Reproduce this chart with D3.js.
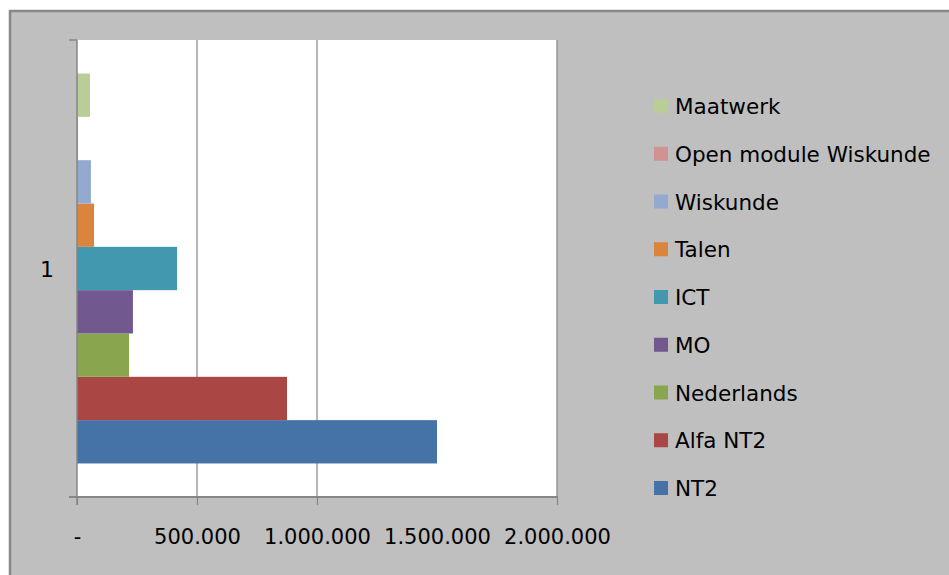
<!DOCTYPE html>
<html>
<head>
<meta charset="utf-8">
<script src="https://cdn.jsdelivr.net/npm/d3@7"></script>
<style>
  html, body { margin: 0; padding: 0; background: #fff; overflow: hidden; }
  svg { display: block; font-family: "DejaVu Sans", sans-serif; }
</style>
</head>
<body>
<div id="app"></div>
<script>
// data
const categories = ["1"];
const seriesNames = ["NT2", "Alfa NT2", "Nederlands", "MO", "ICT", "Talen", "Wiskunde", "Open module Wiskunde", "Maatwerk"];
const seriesValues = [1500000, 875000, 217000, 233000, 417000, 71000, 58000, 4000, 54000];
const seriesColors = ["#4572a7", "#aa4643", "#89a54e", "#71588f", "#4198af", "#db843d", "#93a9cf", "#d19392", "#b9cd96"];
const tickValues = [0, 500000, 1000000, 1500000, 2000000];
const gridValues = [500000, 1000000, 2000000];

const width = 949, height = 575;
const plot = { left: 77, right: 557, top: 40, bottom: 497 };
const lineColor = "#868686";

const nl = d3.formatLocale({ decimal: ",", thousands: ".", grouping: [3], currency: ["", "€"] });
const fmt = (v) => v === 0 ? "-" : nl.format(",")(v);

const svg = d3.select("#app").append("svg")
    .attr("width", width)
    .attr("height", height);

// chart frame, runs past the right and bottom edges
svg.append("rect")
    .attr("x", 10).attr("y", 11)
    .attr("width", width + 40).attr("height", height + 40)
    .attr("fill", "#bfbfbf")
    .attr("stroke", "#888")
    .attr("stroke-width", 2.5);

svg.append("rect")
    .attr("x", plot.left).attr("y", plot.top)
    .attr("width", plot.right - plot.left)
    .attr("height", plot.bottom - plot.top)
    .attr("fill", "#fff");

const x = d3.scaleLinear()
    .domain([0, 2000000])
    .range([plot.left, plot.right]);

const y0 = d3.scaleBand()
    .domain(categories)
    .range([plot.top, plot.bottom])
    .paddingInner(0)
    .paddingOuter(0.086);

const y1 = d3.scaleBand()
    .domain(seriesNames.slice().reverse())
    .range([0, y0.bandwidth()]);

// gridlines
svg.append("g")
    .selectAll("line")
    .data(gridValues)
    .join("line")
    .attr("x1", d => x(d)).attr("x2", d => x(d))
    .attr("y1", plot.top).attr("y2", plot.bottom)
    .attr("stroke", lineColor)
    .attr("stroke-width", 1.2);

// bars
const rows = seriesNames.map((name, i) => ({ name, value: seriesValues[i], color: seriesColors[i] }));

categories.forEach(cat => {
    svg.append("g")
        .attr("transform", `translate(0,${y0(cat)})`)
        .selectAll("rect")
        .data(rows)
        .join("rect")
        .attr("x", x(0))
        .attr("y", d => y1(d.name))
        .attr("width", d => x(d.value) - x(0))
        .attr("height", y1.bandwidth())
        .attr("fill", d => d.color);
});

// x axis
const xAxis = svg.append("g")
    .attr("transform", `translate(0,${plot.bottom})`)
    .call(d3.axisBottom(x)
        .tickValues(tickValues)
        .tickFormat(fmt)
        .tickSizeInner(8)
        .tickSizeOuter(0)
        .tickPadding(24));

xAxis.select(".domain").remove();
xAxis.selectAll(".tick line")
    .attr("stroke", lineColor)
    .attr("stroke-width", 1.2)
    .filter(d => d === 1500000).remove();
xAxis.selectAll(".tick text")
    .attr("font-size", 21)
    .attr("font-family", "DejaVu Sans")
    .attr("fill", "#000");

svg.append("line")
    .attr("x1", plot.left - 8).attr("x2", plot.right + 1)
    .attr("y1", plot.bottom).attr("y2", plot.bottom)
    .attr("stroke", lineColor)
    .attr("stroke-width", 2);

// y axis (category)
svg.append("line")
    .attr("x1", plot.left).attr("x2", plot.left)
    .attr("y1", plot.top).attr("y2", plot.bottom + 8)
    .attr("stroke", lineColor)
    .attr("stroke-width", 1.5);

svg.append("line")
    .attr("x1", plot.left - 8).attr("x2", plot.left)
    .attr("y1", plot.top).attr("y2", plot.top)
    .attr("stroke", lineColor)
    .attr("stroke-width", 1.5);

svg.append("g")
    .selectAll("text")
    .data(categories)
    .join("text")
    .attr("x", 47)
    .attr("y", d => y0(d) + y0.bandwidth() / 2 + 8)
    .attr("text-anchor", "middle")
    .attr("font-size", 22)
    .attr("fill", "#000")
    .text(d => d);

// legend
const legendTop = 106, legendStep = 47.75;
const legend = svg.append("g")
    .selectAll("g")
    .data(rows.slice().reverse())
    .join("g")
    .attr("transform", (d, i) => `translate(654,${legendTop + i * legendStep})`);

legend.append("rect")
    .attr("x", 0).attr("y", -7)
    .attr("width", 14).attr("height", 14)
    .attr("fill", d => d.color);

legend.append("text")
    .attr("x", 21)
    .attr("y", 8)
    .attr("font-size", 21.5)
    .attr("fill", "#000")
    .text(d => d.name);
</script>
</body>
</html>
